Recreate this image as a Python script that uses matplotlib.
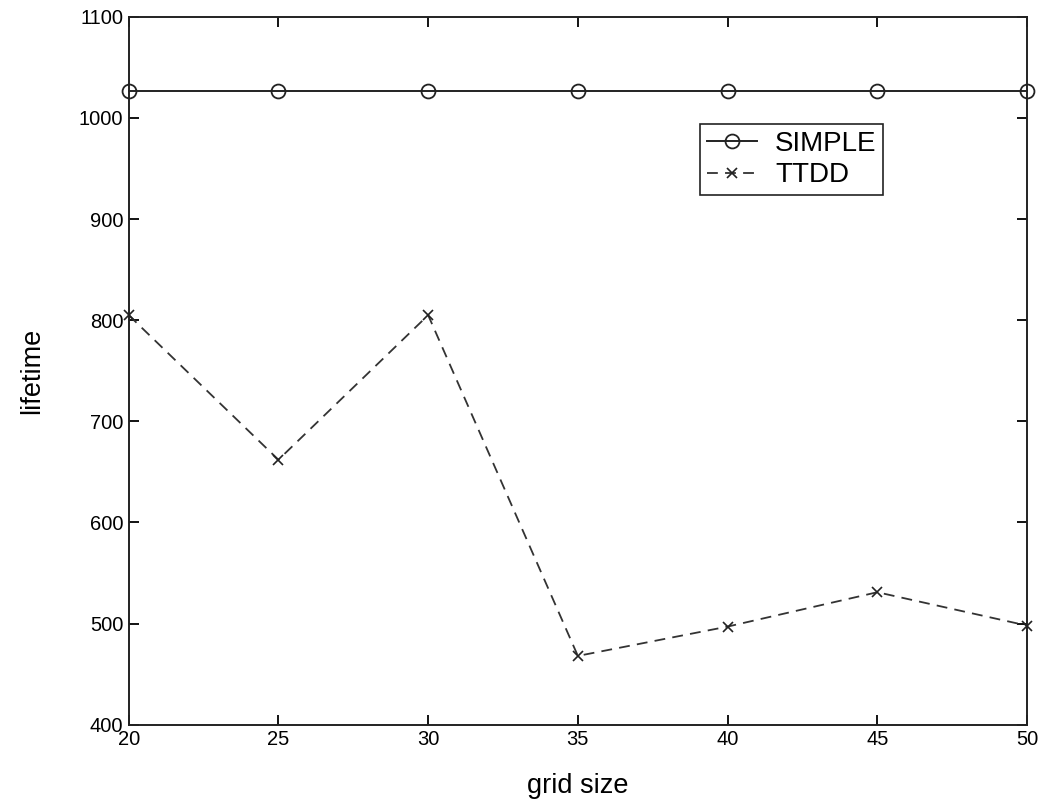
import matplotlib
matplotlib.use('Agg')
import matplotlib.pyplot as plt

plt.rcParams['font.family'] = ['Liberation Sans', 'DejaVu Sans']

grid_size = [20, 25, 30, 35, 40, 45, 50]
simple_lifetime = [1027, 1027, 1027, 1027, 1027, 1027, 1027]
ttdd_lifetime = [805, 662, 805, 468, 497, 531, 498]

fig = plt.figure(figsize=(10.43, 8.02), dpi=100)
ax = fig.add_axes([0.1234, 0.0964, 0.8613, 0.8826])

ax.plot(grid_size, simple_lifetime, '-', color='#222222', lw=1.4,
        marker='o', ms=10, mfc='none', mec='#222222', mew=1.3, label='SIMPLE', clip_on=False)
ax.plot(grid_size, ttdd_lifetime, '--', color='#333333', lw=1.3, dashes=(6, 4),
        marker='x', ms=7, mec='#222222', mew=1.2, label='TTDD', clip_on=False)

ax.set_xlim(20, 50)
ax.set_ylim(400, 1100)
ax.set_xticks(grid_size)
ax.set_yticks(range(400, 1101, 100))
ax.tick_params(direction='in', length=7, width=1.3, labelsize=14.5, top=True, right=True, pad=4)
for s in ax.spines.values():
    s.set_linewidth(1.4)
    s.set_color('#222222')

ax.set_xlabel('grid size', fontsize=19.5, labelpad=17)
ax.set_ylabel('lifetime', fontsize=19.5, labelpad=24)

leg = ax.legend(loc='upper left', bbox_to_anchor=(0.636, 0.849), fontsize=20,
                frameon=True, fancybox=False, edgecolor='#222222', framealpha=1,
                handlelength=1.8, borderpad=0.25, labelspacing=0.2, handletextpad=0.65,
                borderaxespad=0)
leg.get_frame().set_linewidth(1.2)

fig.savefig('out.png', dpi=100)
